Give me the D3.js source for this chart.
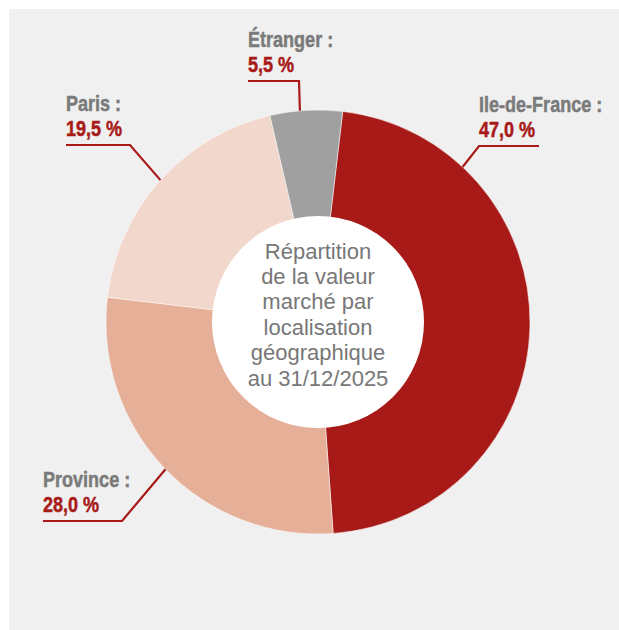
<!DOCTYPE html>
<html lang="fr">
<head>
  <meta charset="UTF-8">
  <title>Répartition de la valeur marché par localisation géographique</title>
  <script src="https://d3js.org/d3.v7.min.js"></script>
</head>
<body style="margin:0;background:#fff;">

<div id="chart"></div>

<script>

// data
var categories = ["Ile-de-France", "Province", "Paris", "Étranger"];
var values = [47.0, 28.0, 19.5, 5.5];
var colors = ["#a81a18", "#e5af98", "#f2d7cc", "#a0a0a0"];
var centerLines = ["Répartition", "de la valeur", "marché par", "localisation", "géographique", "au 31/12/2025"];

// label placement (layout only): text origin, underline length, which end bends to the pie, anchor angle (deg)
var labelLayout = [
  {x: 479, y: 112, len: 60, bend: "start", angle: 43},
  {x: 43,  y: 487, len: 79, bend: "end",   angle: 226},
  {x: 66,  y: 111, len: 64, bend: "end",   angle: 312},
  {x: 248, y: 47,  len: 51, bend: "end",   angle: -4.9}
];

var width = 619, height = 630;
var cx = 318, cy = 322, outerR = 212, innerR = 106;
var red = "#a81a18", grey = "#7a7a7a";

var fr = d3.formatLocale({decimal: ",", thousands: " ", grouping: [3], currency: ["", " €"]});
var fmt = fr.format(".1f");

var svg = d3.select("#chart").append("svg")
  .attr("width", width)
  .attr("height", height);

svg.append("rect")
  .attr("x", 9).attr("y", 9)
  .attr("width", width - 9).attr("height", height - 9)
  .attr("fill", "#f0f0f0");

var start = 6.7 * Math.PI / 180;
var pie = d3.pie().sort(null).value(d => d)
  .startAngle(start).endAngle(start + 2 * Math.PI);
var arc = d3.arc().innerRadius(0).outerRadius(outerR);

var g = svg.append("g").attr("transform", "translate(" + cx + "," + cy + ")");

g.selectAll("path.slice")
  .data(pie(values))
  .join("path")
    .attr("class", "slice")
    .attr("d", arc)
    .attr("fill", (d, i) => colors[i])
    .attr("stroke", "#ffffff")
    .attr("stroke-width", 0.5);

g.append("circle")
  .attr("r", innerR)
  .attr("fill", "#ffffff");

// centre caption
var lh = 25.4;
g.append("text")
  .attr("text-anchor", "middle")
  .attr("font-family", "'Liberation Sans', Arial, sans-serif")
  .attr("font-size", 22)
  .attr("fill", "#777777")
  .selectAll("tspan")
  .data(centerLines)
  .join("tspan")
    .attr("x", 0)
    .attr("y", (d, i) => -63.4 + i * lh)
    .text(d => d);

// labels + leader lines (condensed look: squeeze Liberation Sans Bold horizontally)
var labelFont = "'Liberation Sans', Arial, sans-serif";
var squeeze = 0.82;

categories.forEach(function(name, i) {
  var L = labelLayout[i];
  var a = L.angle * Math.PI / 180;
  var px = cx + outerR * Math.sin(a), py = cy - outerR * Math.cos(a);
  var ly = L.y + 34;
  var x0 = L.x, x1 = L.x + L.len;
  var pts = L.bend === "start"
    ? [[px, py], [x0, ly], [x1, ly]]
    : [[px, py], [x1, ly], [x0, ly]];

  svg.append("path")
    .attr("d", d3.line()(pts))
    .attr("fill", "none")
    .attr("stroke", red)
    .attr("stroke-width", 2.2);

  svg.append("text")
    .attr("transform", "translate(" + L.x + "," + L.y + ") scale(" + squeeze + ",1)")
    .attr("font-family", labelFont)
    .attr("font-weight", "bold")
    .attr("font-size", 22)
    .attr("fill", grey)
    .attr("stroke", grey)
    .attr("stroke-width", 0.5)
    .text(name + " :");

  svg.append("text")
    .attr("transform", "translate(" + L.x + "," + (L.y + 25) + ") scale(" + squeeze + ",1)")
    .attr("font-family", labelFont)
    .attr("font-weight", "bold")
    .attr("font-size", 22)
    .attr("fill", red)
    .attr("stroke", red)
    .attr("stroke-width", 0.5)
    .text(fmt(values[i]) + " %");
});

</script>
</body>
</html>
